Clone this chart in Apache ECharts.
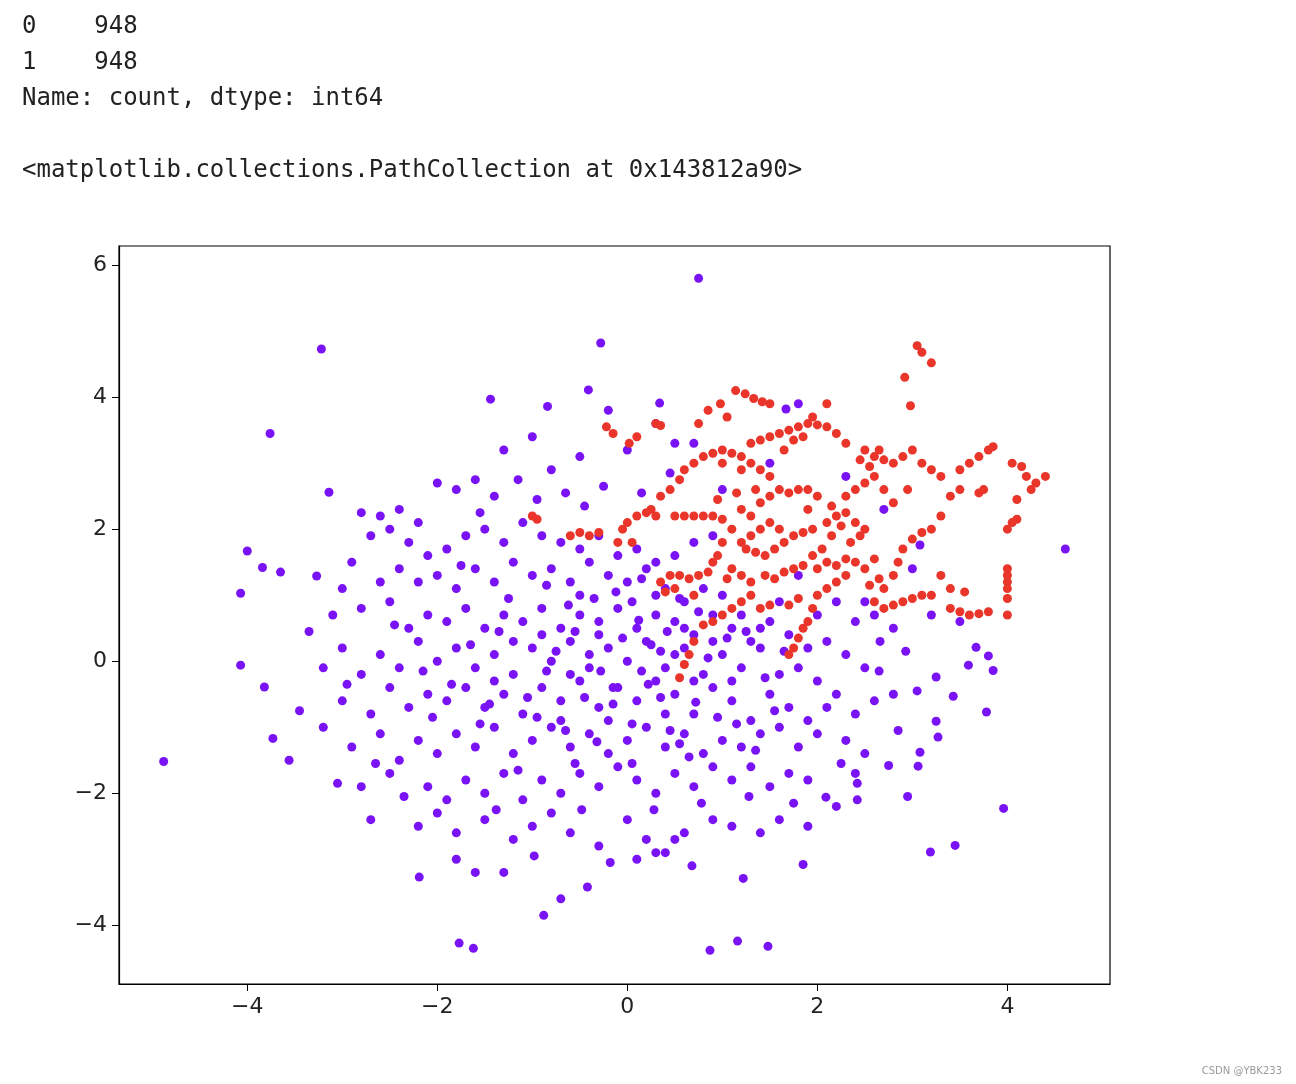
<!DOCTYPE html>
<html><head><meta charset="utf-8">
<script src="https://cdn.jsdelivr.net/npm/echarts@6/dist/echarts.min.js"></script>
<style>html,body{margin:0;padding:0;background:#fff}#c{width:1296px;height:1084px}</style>
</head><body><div id="c"></div>
<script>
const xTicks=[-4,-2,0,2,4];
const yTicks=[-4,-2,0,2,4,6];
const headerLines=["0    948","1    948","Name: count, dtype: int64","<matplotlib.collections.PathCollection at 0x143812a90>"];
const purple=[
[0.75,5.8],[-3.22,4.73],[-0.28,4.82],[-3.76,3.45],[-3.14,2.56],[-1.44,3.97],[-0.41,4.11],[-0.84,3.86],[-4.0,1.67],[-4.07,1.03],[-4.07,-0.06],[-4.88,-1.52],[-3.82,-0.39],[-3.73,-1.17],[-3.56,-1.5],[-3.65,1.35],[-3.84,1.42],[-3.27,1.29],[4.61,1.7],[3.96,-2.23],[3.45,-2.79],[3.19,-2.89],[0.87,-4.38],[1.16,-4.24],[1.48,-4.32],[-1.77,-4.27],[-1.62,-4.35],[-0.88,-3.85],[-0.42,-3.42],[-2.19,-3.27],[1.22,-3.29],[1.85,-3.08],[1.67,3.82],[0.34,3.91],[3.08,1.76],[3.8,0.08],[3.85,-0.14],[3.78,-0.77],[3.25,-0.91],[3.27,-1.15],[3.08,-1.38],[3.06,-1.59],[2.75,-1.58],[2.42,-1.85],[2.42,-2.1],[2.09,-2.06],[3.59,-0.06],[3.67,0.21],[3.43,-0.53],[3.25,-0.24],[2.66,0.3],[2.93,0.15],
[-2.0,2.7],[-1.8,2.6],[-1.6,2.75],[-1.3,3.2],[-1.0,3.4],[-0.8,2.9],[-0.5,3.1],[-0.2,3.8],[0.0,3.2],[0.3,3.6],[0.5,3.3],[0.7,3.3],[-2.4,2.3],[-2.6,2.2],[-2.8,2.25],[-2.2,2.1],[-1.4,2.5],
[-3.0,1.1],[-2.9,1.5],[-2.7,1.9],[-2.5,2.0],[-2.3,1.8],[-2.1,1.6],[-1.9,1.7],[-1.7,1.9],[-1.5,2.0],[-1.3,1.8],[-1.1,2.1],[-0.9,1.9],[-0.7,1.8],[-0.5,1.7],[-0.3,1.9],[-0.1,1.6],[0.1,1.7],[0.3,1.5],[0.5,1.6],[0.7,1.8],[0.9,1.9],[-2.6,1.2],[-2.4,1.4],[-2.2,1.2],[-2.0,1.3],[-1.8,1.1],[-1.6,1.4],[-1.4,1.2],[-1.2,1.5],[-1.0,1.3],[-0.8,1.4],[-0.6,1.2],[-0.4,1.5],[-0.2,1.3],[0.0,1.2],[0.2,1.4],[0.4,1.1],[0.6,0.9],[0.8,1.1],[1.0,1.0],[1.2,0.7],[1.4,0.5],[1.6,0.9],[1.8,1.3],[2.0,0.7],[2.2,0.9],[2.4,0.6],[2.6,0.7],[2.8,0.5],[-3.1,0.7],[-2.8,0.8],[-2.5,0.9],[-2.3,0.5],[-2.1,0.7],[-1.9,0.6],[-1.7,0.8],[-1.5,0.5],[-1.3,0.7],[-1.1,0.6],[-0.9,0.8],[-0.7,0.5],[-0.5,0.7],[-0.3,0.6],[-0.1,0.8],[0.1,0.5],[0.3,0.7],[0.5,0.6],[0.7,0.4],[0.9,0.3],[1.1,0.5],[1.3,0.3],[1.5,0.6],[1.7,0.4],[1.9,0.2],[2.1,0.3],[2.3,0.1],[2.5,-0.1],
[-3.2,-0.1],[-3.0,0.2],[-2.8,-0.2],[-2.6,0.1],[-2.4,-0.1],[-2.2,0.3],[-2.0,0.0],[-1.8,0.2],[-1.6,-0.1],[-1.4,0.1],[-1.2,-0.2],[-1.0,0.2],[-0.8,0.0],[-0.6,0.3],[-0.4,-0.1],[-0.2,0.2],[0.0,0.0],[0.2,0.3],[0.4,-0.1],[0.6,0.2],[0.8,-0.2],[1.0,0.1],[1.2,-0.1],[1.4,0.2],[1.6,-0.2],[1.8,-0.1],[2.0,-0.3],[2.2,-0.5],
[-3.0,-0.6],[-2.7,-0.8],[-2.5,-0.4],[-2.3,-0.7],[-2.1,-0.5],[-1.9,-0.6],[-1.7,-0.4],[-1.5,-0.7],[-1.3,-0.5],[-1.1,-0.8],[-0.9,-0.4],[-0.7,-0.6],[-0.5,-0.3],[-0.3,-0.7],[-0.1,-0.4],[0.1,-0.6],[0.3,-0.3],[0.5,-0.5],[0.7,-0.8],[0.9,-0.4],[1.1,-0.6],[1.3,-0.9],[1.5,-0.5],[1.7,-0.7],[1.9,-0.9],[2.1,-0.7],[2.4,-0.8],[2.6,-0.6],[2.8,-0.5],
[-3.2,-1.0],[-2.9,-1.3],[-2.6,-1.1],[-2.4,-1.5],[-2.2,-1.2],[-2.0,-1.4],[-1.8,-1.1],[-1.6,-1.3],[-1.4,-1.0],[-1.2,-1.4],[-1.0,-1.2],[-0.8,-1.0],[-0.6,-1.3],[-0.4,-1.1],[-0.2,-1.4],[0.0,-1.2],[0.2,-1.0],[0.4,-1.3],[0.6,-1.1],[0.8,-1.4],[1.0,-1.2],[1.2,-1.3],[1.4,-1.1],[1.6,-1.0],[1.8,-1.3],[2.0,-1.1],[2.3,-1.2],[2.5,-1.4],
[-2.8,-1.9],[-2.5,-1.7],[-2.1,-1.9],[-1.9,-2.1],[-1.7,-1.8],[-1.5,-2.0],[-1.3,-1.7],[-1.1,-2.1],[-0.9,-1.8],[-0.7,-2.0],[-0.5,-1.7],[-0.3,-1.9],[-0.1,-1.6],[0.1,-1.8],[0.3,-2.0],[0.5,-1.7],[0.7,-1.9],[0.9,-1.6],[1.1,-1.8],[1.3,-1.6],[1.5,-1.9],[1.7,-1.7],[1.9,-1.8],[2.4,-1.7],
[-2.7,-2.4],[-2.2,-2.5],[-2.0,-2.3],[-1.8,-2.6],[-1.5,-2.4],[-1.2,-2.7],[-1.0,-2.5],[-0.8,-2.3],[-0.6,-2.6],[-0.3,-2.8],[0.0,-2.4],[0.2,-2.7],[0.4,-2.9],[0.6,-2.6],[0.9,-2.4],[1.1,-2.5],[1.4,-2.6],[1.6,-2.4],[1.9,-2.5],[2.2,-2.2],
[-1.8,-3.0],[-1.6,-3.2],[-1.3,-3.2],[-0.7,-3.6],[0.1,-3.0],[0.3,-2.9],[0.5,-2.7],
[-0.3,0.4],[0.15,-0.15],[-0.6,-0.2],[0.5,0.1],[-0.9,0.4],[0.3,1.0],[-0.5,1.0],[0.7,-0.3],[-1.2,0.3],[0.9,0.7],[-0.2,-0.9],[0.4,-0.8],[-0.7,-0.9],[1.1,-0.3],[-1.4,-0.3],[0.05,0.9],[-0.15,-0.4],[0.6,0.5],[-0.4,0.1],[0.25,0.25],
[1.0,2.6],[1.5,3.0],[2.3,2.8],[2.7,2.3],[3.0,1.4],[2.5,0.9],[3.2,0.7],[3.5,0.6],[1.8,3.9],
[-0.05,0.35],[0.35,-0.55],[-0.45,-0.55],[0.85,0.05],[-0.85,-0.15],[0.12,0.62],[-0.32,-1.22],[0.55,-1.25],[-1.05,-0.55],[1.25,0.45],[-0.62,0.85],[0.72,-0.62],[-1.35,0.45],[0.95,-0.85],[-0.12,1.05],[0.42,0.45],[-0.75,0.15],[0.22,-0.35],[-0.28,-0.15],[1.05,0.35],
[-1.65,0.25],[-1.85,-0.35],[-2.15,-0.15],[-1.55,-0.95],[-1.15,-1.65],[-0.55,-1.55],[0.05,-1.55],[0.65,-1.45],[1.35,-1.35],[1.55,-0.75],[1.65,0.15],[1.45,-0.25],[-2.45,0.55],[-2.05,-0.85],[-1.25,0.95],[-0.85,1.15],[0.15,1.25],[0.55,0.95],[-0.35,0.95],[-1.75,1.45],
[-0.95,2.45],[-0.45,2.35],[0.15,2.55],[-1.55,2.25],[-0.25,2.65],[0.45,2.85],[-1.15,2.75],[-0.65,2.55],
[-0.48,-2.25],[0.28,-2.25],[-1.38,-2.25],[0.78,-2.15],[1.28,-2.05],[-0.18,-3.05],[-0.98,-2.95],[0.68,-3.1],[1.75,-2.15],[-2.35,-2.05],
[-2.95,-0.35],[-3.35,0.45],[-3.45,-0.75],[-2.65,-1.55],[-3.05,-1.85],[2.85,-1.05],[3.05,-0.45],[2.65,-0.15],[2.25,-1.55],[2.95,-2.05],
[-0.55,0.45],[0.35,0.15],[-0.15,-0.65],[0.75,0.75],[-0.95,-0.85],[1.15,-0.95],[-1.45,-0.65],[0.05,-0.95],[-0.65,-1.05],[0.45,-1.05]
];
const red=[
[3.05,4.78],[3.1,4.68],[3.2,4.52],[2.92,4.3],[2.98,3.87],
[1.14,4.1],[1.24,4.05],[1.33,3.98],[1.42,3.93],[1.5,3.9],
[-0.22,3.55],[-0.15,3.45],[0.02,3.3],[0.1,3.4],[0.3,3.6],[0.35,3.57],
[0.85,3.8],[0.98,3.9],[1.05,3.7],[0.75,3.6],
[1.3,3.3],[1.4,3.35],[1.5,3.4],[1.6,3.45],[1.7,3.5],[1.8,3.55],[1.9,3.6],[2.0,3.58],[2.1,3.55],[2.2,3.45],[2.3,3.3],[1.75,3.35],[1.85,3.4],[1.65,3.2],[2.1,3.9],[1.95,3.7],
[0.6,2.9],[0.7,3.0],[0.8,3.1],[0.9,3.15],[1.0,3.2],[1.1,3.15],[1.2,3.1],[1.3,3.0],[1.4,2.9],[1.5,2.8],[1.2,2.9],[1.0,3.0],[0.55,2.75],[0.45,2.6],[0.35,2.5],[0.25,2.3],
[0.5,2.2],[0.6,2.2],[0.7,2.2],[0.8,2.2],[0.9,2.2],[1.0,2.15],[-0.05,2.0],[0.0,2.1],[0.1,2.2],[0.2,2.25],[0.3,2.2],[-0.1,1.8],[0.05,1.8],
[-1.0,2.2],[-0.95,2.15],[-0.6,1.9],[-0.5,1.95],[-0.4,1.9],[-0.3,1.95],
[0.35,1.2],[0.45,1.3],[0.55,1.3],[0.65,1.25],[0.75,1.3],[0.85,1.35],[0.4,1.05],[0.5,1.1],
[0.9,0.6],[1.0,0.7],[1.1,0.8],[1.2,0.9],[1.3,1.0],[1.4,0.8],[1.5,0.85],[0.8,0.55],[0.7,0.3],[0.65,0.1],[0.6,-0.05],[0.55,-0.25],
[1.7,0.1],[1.75,0.2],[1.8,0.35],[1.85,0.5],[1.9,0.6],[1.95,0.8],[2.0,1.0],[2.1,1.1],[1.8,0.95],[1.7,0.85],
[2.5,3.2],[2.6,3.1],[2.7,3.05],[2.8,3.0],[2.9,3.1],[3.0,3.2],[3.1,3.0],[3.2,2.9],[3.3,2.8],[2.6,2.8],[2.5,2.7],[2.4,2.6],[2.3,2.5],[2.7,2.6],[2.8,2.4],
[3.5,2.9],[3.6,3.0],[3.7,3.1],[3.8,3.2],[3.85,3.25],[3.5,2.6],[3.4,2.5],[3.7,2.55],[3.75,2.6],
[4.05,3.0],[4.15,2.95],[4.2,2.8],[4.3,2.7],[4.4,2.8],[4.25,2.6],[4.1,2.45],[4.05,2.1],[4.0,2.0],[4.1,2.15],
[4.0,1.4],[4.0,1.3],[4.0,1.2],[4.0,1.1],[4.0,0.95],[4.0,0.7],[3.8,0.75],[3.7,0.72],[3.6,0.7],[3.5,0.75],[3.4,0.8],
[3.0,0.95],[3.2,1.0],[3.1,1.0],[2.9,0.9],[2.8,0.85],[2.7,0.8],[2.6,0.9],[2.7,1.1],[2.8,1.3],[2.85,1.5],[2.9,1.7],[3.0,1.85],[3.1,1.95],[3.2,2.0],[2.6,1.55],[2.5,1.4],[2.4,1.5],[2.3,1.3],[2.2,1.2],
[3.3,1.3],[3.4,1.1],[3.55,1.05],
[1.2,2.3],[1.3,2.2],[1.4,2.4],[1.5,2.5],[1.6,2.6],[1.7,2.55],[1.8,2.6],[1.9,2.6],[2.0,2.5],[1.2,1.8],[1.25,1.7],[1.35,1.65],[1.45,1.6],[1.55,1.7],[1.65,1.8],[1.75,1.9],[1.85,1.95],[1.95,2.0],[2.1,2.1],[2.2,2.2],[2.3,2.25],[2.4,2.1],[2.5,2.0],[2.45,1.9],[2.35,1.8],[2.15,1.9],[2.05,1.7],[1.95,1.6],[1.85,1.45],[1.75,1.4],[1.65,1.35],[1.55,1.25],[1.45,1.3],[2.0,1.4],[2.1,1.5],[2.2,1.45],[2.3,1.55],[1.3,1.9],[1.4,2.0],[1.5,2.1],[1.6,2.0],[1.1,2.0],[1.0,1.8],[0.95,1.6],[0.9,1.5],[1.1,1.4],[1.2,1.3],[1.3,1.2],
[2.55,2.95],[2.65,3.2],[2.45,3.05],[2.15,2.35],[2.25,2.05],[1.9,2.3],[1.35,2.6],[1.15,2.55],[0.95,2.45],[2.55,1.15],[2.65,1.25],[1.05,1.25],[0.7,1.0],[2.95,2.6],[3.3,2.2]
];
const fmt=v=>String(v).replace('-','\u2212');
const chart=echarts.init(document.getElementById('c'));
const axisLine={show:true,onZero:false,lineStyle:{color:'#000',width:1.2}};
chart.setOption({
 animation:false,backgroundColor:'#fff',
 grid:{left:119,top:246,width:991,height:738,show:true,borderColor:'#000',borderWidth:1.2},
 xAxis:{type:'value',min:-5.35,max:5.08,axisLine:axisLine,splitLine:{show:false},
   axisTick:{show:true,length:7,lineStyle:{color:'#000'},customValues:xTicks},
   axisLabel:{color:'#222',fontSize:22,fontFamily:'DejaVu Sans',margin:12,formatter:fmt,customValues:xTicks}},
 yAxis:{type:'value',min:-4.89,max:6.29,axisLine:axisLine,splitLine:{show:false},
   axisTick:{show:true,length:7,lineStyle:{color:'#000'},customValues:yTicks},
   axisLabel:{color:'#222',fontSize:22,fontFamily:'DejaVu Sans',margin:12,formatter:fmt,customValues:yTicks}},
 series:[
  {type:'scatter',data:purple,symbolSize:9,itemStyle:{color:'#7a12f6',opacity:1}},
  {type:'scatter',data:red,symbolSize:9,itemStyle:{color:'#e9352a',opacity:1}}
 ],
 graphic:headerLines.map((t,i)=>({type:'text',left:22,top:[15,51,87,159][i],
   style:{text:t,font:'24px "DejaVu Sans Mono", monospace',fill:'#222'}})).concat([
   {type:'text',right:14,bottom:8,style:{text:'CSDN @YBK233',font:'10px "DejaVu Sans"',fill:'#999'}}])
});
</script></body></html>
